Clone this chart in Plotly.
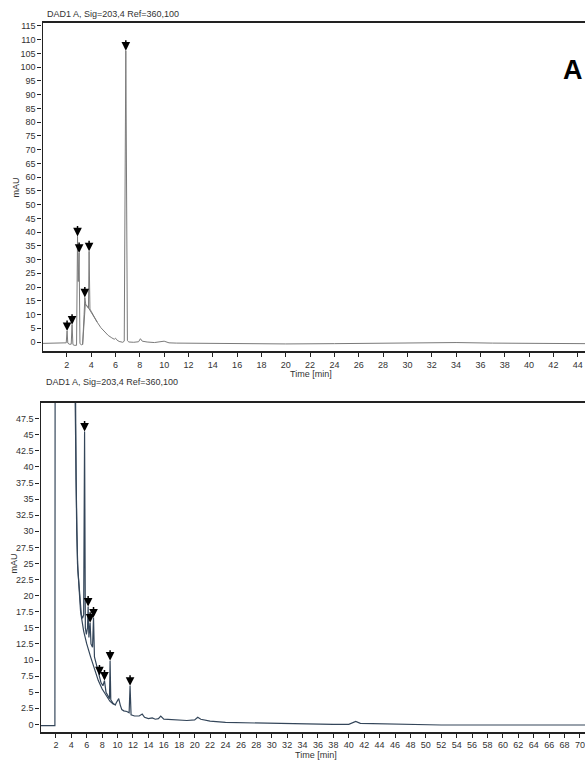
import plotly.graph_objects as go

# ---------------- Panel A data (time [min], mAU) ----------------
time_a = [0, 1.85, 1.95, 2.02, 2.08, 2.2, 2.36, 2.43, 2.5, 2.6, 2.8, 2.88, 2.94, 3.01, 3.08,
          3.2, 3.3, 3.42, 3.48, 3.56, 3.7, 3.78, 3.83, 3.9, 4.0, 4.2, 4.5, 4.8, 5.1, 5.4,
          5.7, 5.9, 6.0, 6.1, 6.3, 6.6, 6.72, 6.85, 6.98, 7.1, 7.5, 7.9, 8.05, 8.2, 8.6,
          9.2, 10.0, 10.4, 11, 13, 16, 20, 24, 28, 31, 34, 37, 40, 44.6]
signal_a = [-0.5, -0.5, -0.3, 4.0, -0.4, -0.8, -0.8, 6.3, -0.9, -1.2, -1.2, 38.4, 22, 32.4, -0.6,
            -1.0, -0.9, 10, 16.2, 13.5, 12.8, 12.3, 33, 12, 11.2, 9.5, 7.2, 5.2, 3.6, 2.4,
            1.5, 1.0, 1.4, 0.8, 0.2, -0.1, 0.3, 106, 0.5, 0.0, -0.1, 0.1, 1.2, 0.3, 0.0,
            -0.2, 0.3, -0.3, -0.4, -0.5, -0.6, -0.7, -0.6, -0.4, -0.2, -0.2, -0.4, -0.5, -0.6]
base_time_a = [3.3, 3.52, 3.7, 3.9, 4.1, 4.5]
base_signal_a = [-0.9, 13.8, 13.0, 11.5, 10.0, 7.2]
peak_time_a = [2.02, 2.43, 2.88, 3.01, 3.48, 3.83, 6.85]
peak_signal_a = [4.0, 6.3, 38.4, 32.4, 16.2, 33, 106]
xticks_a = list(range(2, 45, 2))
yticks_a = list(range(0, 116, 5))

# ---------------- Panel B data (time [min], mAU) ----------------
time_b = [0, 1.87, 1.9, 4.4, 4.45, 4.55, 4.7, 4.85, 5.0, 5.1, 5.3, 5.45, 5.6, 5.72, 5.82,
          5.95, 6.1, 6.18, 6.28, 6.44, 6.55, 6.75, 6.88, 7.0, 7.2, 7.45, 7.65, 7.85, 8.1,
          8.3, 8.5, 8.8, 8.95, 9.03, 9.12, 9.4, 9.7, 9.85, 10.15, 10.35, 10.55, 10.8, 11.2,
          11.5, 11.62, 11.75, 12.2, 12.8, 13.2, 13.5, 14.0, 14.5, 14.9, 15.3, 15.6, 16.0,
          17, 18, 19, 20, 20.4, 20.8, 22, 24, 26, 28, 30, 34, 38, 40, 40.9, 41.5, 44, 48,
          52, 60, 66, 69, 70.7]
signal_b = [-0.2, -0.2, 60, 60, 55, 40, 30, 24, 21.5, 20.5, 17.0, 16.5, 17.0, 45.5, 15.0,
            14.0, 15.0, 18.3, 13.5, 15.8, 12.5, 12.0, 16.6, 10.5, 9.5, 8.2, 7.6, 6.5, 6.0,
            6.8, 5.0, 4.2, 4.0, 9.9, 3.8, 3.3, 3.0, 3.4, 4.0, 3.0, 2.3, 2.1, 2.0,
            1.8, 6.0, 1.5, 1.3, 1.3, 1.6, 1.1, 0.9, 1.0, 0.8, 0.9, 1.3, 0.8,
            0.7, 0.6, 0.6, 0.7, 1.1, 0.8, 0.5, 0.3, 0.25, 0.2, 0.1, 0.05, 0.0, 0.0, 0.45, 0.15, 0.1, 0.0,
            -0.1, -0.1, -0.15, -0.15, -0.1]
base_time_b = [4.5, 4.62, 4.8, 5.2, 5.6, 6.0, 6.5, 7.0, 7.5, 8.0, 8.5, 9.0, 9.5]
base_signal_b = [60, 38, 25, 17.5, 14.5, 12.5, 10.5, 8.5, 6.8, 5.5, 4.5, 3.6, 3.1]
peak_time_b = [5.72, 6.18, 6.44, 6.88, 7.65, 8.3, 9.03, 11.62]
peak_signal_b = [45.5, 18.3, 15.8, 16.6, 7.6, 6.8, 9.9, 6.0]
xticks_b = list(range(2, 71, 2))
yticks_b = [i * 2.5 for i in range(0, 20)]

title_text = "DAD1 A, Sig=203,4 Ref=360,100"

W, H = 585, 760
def py(p):
    return 1 - p / H
def px(p):
    return p / W

color_a = "#7a7a7a"
color_b = "#34465a"
axis_col = "#222222"
tick_font = dict(family="Liberation Sans, Arial, sans-serif", size=9, color="#333333")

fig = go.Figure()
fig.add_trace(go.Scatter(x=time_a, y=signal_a, mode="lines", line=dict(color=color_a, width=1),
                         xaxis="x", yaxis="y", hoverinfo="skip"))
fig.add_trace(go.Scatter(x=base_time_a, y=base_signal_a, mode="lines", line=dict(color=color_a, width=1),
                         xaxis="x", yaxis="y", hoverinfo="skip"))
fig.add_trace(go.Scatter(x=time_b, y=signal_b, mode="lines", line=dict(color=color_b, width=1.2),
                         xaxis="x2", yaxis="y2", hoverinfo="skip"))
fig.add_trace(go.Scatter(x=base_time_b, y=base_signal_b, mode="lines", line=dict(color=color_b, width=1.2),
                         xaxis="x2", yaxis="y2", hoverinfo="skip"))

annotations = []
arrow_style = dict(ax=0, ay=-12, text="", showarrow=True, arrowhead=2, arrowsize=1.15,
                   arrowwidth=1.5, arrowcolor="black", standoff=0)
for t, v in zip(peak_time_a, peak_signal_a):
    annotations.append(dict(arrow_style, x=t, y=v, xref="x", yref="y"))
for t, v in zip(peak_time_b, peak_signal_b):
    annotations.append(dict(arrow_style, x=t, y=v, xref="x2", yref="y2"))

lab_font = dict(family="Liberation Sans, Arial, sans-serif", size=9, color="#333333")
annotations += [
    dict(x=px(113), y=py(12), xref="paper", yref="paper", text=title_text, showarrow=False,
         font=lab_font, xanchor="center", yanchor="middle"),
    dict(x=px(112), y=py(381), xref="paper", yref="paper", text=title_text, showarrow=False,
         font=lab_font, xanchor="center", yanchor="middle"),
    dict(x=px(311), y=py(373), xref="paper", yref="paper", text="Time [min]", showarrow=False,
         font=lab_font, xanchor="center", yanchor="middle"),
    dict(x=px(316), y=py(755), xref="paper", yref="paper", text="Time [min]", showarrow=False,
         font=lab_font, xanchor="center", yanchor="middle"),
    dict(x=px(16), y=py(186), xref="paper", yref="paper", text="mAU", showarrow=False, textangle=-90,
         font=lab_font, xanchor="center", yanchor="middle"),
    dict(x=px(14), y=py(563), xref="paper", yref="paper", text="mAU", showarrow=False, textangle=-90,
         font=lab_font, xanchor="center", yanchor="middle"),
    dict(x=px(573), y=py(68), xref="paper", yref="paper", text="<b>A</b>", showarrow=False,
         font=dict(family="Liberation Sans, Arial, sans-serif", size=27, color="black"),
         xanchor="center", yanchor="middle"),
]

common_x = dict(showgrid=False, zeroline=False, showline=True, mirror=True, linecolor=axis_col,
                linewidth=1.5, ticks="outside", ticklen=4, tickcolor=axis_col, tickfont=tick_font)
common_y = dict(showgrid=False, zeroline=False, showline=True, linecolor=axis_col,
                linewidth=1.2, ticks="outside", ticklen=4, tickcolor=axis_col, tickfont=tick_font)

fig.update_layout(
    width=W, height=H, margin=dict(l=0, r=0, t=0, b=0),
    paper_bgcolor="white", plot_bgcolor="white", showlegend=False,
    xaxis=dict(common_x, domain=[px(42.5), 1], range=[0, 44.6], tickvals=xticks_a, anchor="y"),
    yaxis=dict(common_y, domain=[py(350), py(21)], range=[-3.3, 116.1], tickvals=yticks_a, anchor="x"),
    xaxis2=dict(common_x, domain=[px(40.5), 1], range=[0, 70.65], tickvals=xticks_b, anchor="y2"),
    yaxis2=dict(common_y, domain=[py(731.7), py(401.7)], range=[-1.15, 50], tickvals=yticks_b,
                anchor="x2"),
    annotations=annotations,
)

fig.write_html("out.html", config={"displayModeBar": False},
               post_script="document.body.style.margin='0';document.body.style.overflow='hidden';")
